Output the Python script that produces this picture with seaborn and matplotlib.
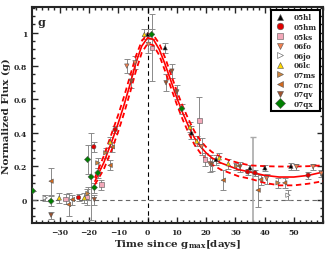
import numpy as np
import pandas as pd
import seaborn as sns
import matplotlib
matplotlib.use("Agg")
import matplotlib.pyplot as plt
from matplotlib.ticker import MultipleLocator

sns.set_theme(style="ticks")
plt.rcParams['font.family'] = ['DejaVu Serif']
plt.rcParams['font.weight'] = 'bold'
plt.rcParams['mathtext.fontset'] = 'dejavuserif'
plt.rcParams['mathtext.default'] = 'bf'

# template curve and its uncertainty band
tmpl_t = [-18, -15, -12, -10, -8, -6, -4, -2, 0, 2, 4, 6, 8, 10, 12, 14, 16, 18, 20, 22, 25, 28, 31, 35, 40, 45, 50, 55, 60]
tmpl_mid = [0.11, 0.22, 0.36, 0.46, 0.57, 0.69, 0.82, 0.92, 0.97, 0.96, 0.90, 0.81, 0.71, 0.61, 0.52, 0.44, 0.37, 0.32, 0.28, 0.25, 0.22, 0.20, 0.18, 0.165, 0.145, 0.135, 0.135, 0.145, 0.165]
tmpl_hi = [0.13, 0.26, 0.41, 0.51, 0.62, 0.74, 0.86, 0.95, 0.995, 0.985, 0.935, 0.85, 0.75, 0.65, 0.56, 0.48, 0.41, 0.355, 0.315, 0.285, 0.255, 0.235, 0.22, 0.205, 0.2, 0.198, 0.198, 0.2, 0.205]
tmpl_lo = [0.09, 0.18, 0.31, 0.41, 0.52, 0.64, 0.77, 0.88, 0.935, 0.925, 0.865, 0.77, 0.67, 0.57, 0.48, 0.40, 0.33, 0.28, 0.24, 0.21, 0.18, 0.16, 0.14, 0.125, 0.1, 0.085, 0.085, 0.095, 0.11]

# photometry per supernova: phase, flux, flux error
sn_05hl_t = [0, 6, 15, 23.4, 35, 40.1, 49]
sn_05hl_f = [0.99, 0.91, 0.40, 0.24, 0.19, 0.19, 0.20]
sn_05hl_e = [0.03, 0.03, 0.04, 0.03, 0.02, 0.02, 0.02]

sn_05hm_t = [-23.6, -18.4, -11.1, 34.2, 36.7, 54.9]
sn_05hm_f = [0.012, 0.316, 0.42, 0.166, 0.16, 0.146]
sn_05hm_e = [0.02, 0.03, 0.02, 0.02, 0.02, 0.02]

sn_05ks_t = [-28, -20.7, -15.8, 1.5, 17.7, 19.6]
sn_05ks_f = [0.005, 0.016, 0.09, 0.91, 0.475, 0.24]
sn_05ks_e = [0.03, 0.05, 0.03, 0.2, 0.14, 0.04]

sn_06fo_t = [-7.1, -4.3, 0.3, 18.5, 21.3, 40.7, 50.9, 56.6, 59.4]
sn_06fo_f = [0.80, 0.82, 0.93, 0.316, 0.215, 0.126, 0.196, 0.196, 0.156]
sn_06fo_e = [0.04, 0.04, 0.05, 0.05, 0.05, 0.03, 0.02, 0.02, 0.02]

sn_06jo_t = [-35, 48]
sn_06jo_f = [0.01, 0.026]
sn_06jo_e = [0.02, 0.03]

sn_06lc_t = [-30.2, -21.6, -12.8, -1.1, 14.5, 16.8, 24.5, 27.6]
sn_06lc_f = [0.01, 0.01, 0.345, 0.99, 0.435, 0.35, 0.25, 0.215]
sn_06lc_e = [0.03, 0.03, 0.03, 0.03, 0.03, 0.03, 0.03, 0.03]

sn_07ms_t = [-20.4, -17, -14.3, 30.4, 44.6]
sn_07ms_f = [0.036, 0.22, 0.28, 0.2, 0.1]
sn_07ms_e = [0.04, 0.03, 0.03, 0.02, 0.03]

sn_07nc_t = [-33, -27, -25.7, -12.8, -12, 25.9, 37.8, 38.7, 46.9]
sn_07nc_f = [0.11, -0.03, 0.0, 0.205, 0.316, 0.116, 0.056, 0.12, 0.1]
sn_07nc_e = [0.08, 0.07, 0.03, 0.03, 0.03, 0.06, 0.1, 0.03, 0.03]

sn_07qv_t = [-33, -18.2, -5.6, 6.3, 8.3, 10, 21.9, 31.6]
sn_07qv_f = [-0.094, 0.0, 0.71, 0.70, 0.77, 0.645, 0.21, 0.196]
sn_07qv_e = [0.02, 0.03, 0.04, 0.05, 0.04, 0.04, 0.04, 0.03]

sn_07qx_t = [-39.3, -33, -20.5, -19.3, -18.2, -17, 1.4, 11.7]
sn_07qx_f = [0.052, -0.01, 0.24, 0.136, 0.072, 0.16, 0.99, 0.545]
sn_07qx_e = [0.0, 0.03, 0.085, 0.26, 0.03, 0.03, 0.03, 0.03]

# big grey error bar near 36 d
wide_t = [35.9]
wide_f = [0.12]
wide_e = [0.255]

names = ["05hl", "05hm", "05ks", "06fo", "06jo", "06lc", "07ms", "07nc", "07qv", "07qx"]
series = {
    "05hl": (sn_05hl_t, sn_05hl_f, sn_05hl_e),
    "05hm": (sn_05hm_t, sn_05hm_f, sn_05hm_e),
    "05ks": (sn_05ks_t, sn_05ks_f, sn_05ks_e),
    "06fo": (sn_06fo_t, sn_06fo_f, sn_06fo_e),
    "06jo": (sn_06jo_t, sn_06jo_f, sn_06jo_e),
    "06lc": (sn_06lc_t, sn_06lc_f, sn_06lc_e),
    "07ms": (sn_07ms_t, sn_07ms_f, sn_07ms_e),
    "07nc": (sn_07nc_t, sn_07nc_f, sn_07nc_e),
    "07qv": (sn_07qv_t, sn_07qv_f, sn_07qv_e),
    "07qx": (sn_07qx_t, sn_07qx_f, sn_07qx_e),
}
palette = {"05hl": "black", "05hm": "#e00000", "05ks": "#f2a7b8", "06fo": "#f08050",
           "06jo": "white", "06lc": "#ffd700", "07ms": "#cd853f", "07nc": "#d2691e",
           "07qv": "#a0522d", "07qx": "#008000"}
markers = {"05hl": "^", "05hm": "o", "05ks": "s", "06fo": "v", "06jo": ">",
           "06lc": "^", "07ms": ">", "07nc": "<", "07qv": "v", "07qx": "D"}

rows = []
for n in names:
    t, f, e = series[n]
    for a, b, c in zip(t, f, e):
        rows.append({"t": a, "flux": b, "err": c, "sn": n})
df = pd.DataFrame(rows)

tmpl = pd.DataFrame({"t": tmpl_t, "mid": tmpl_mid, "hi": tmpl_hi, "lo": tmpl_lo})

fig = plt.figure(figsize=(3.27, 2.55), dpi=100)
ax = fig.add_axes([0.098, 0.122, 0.89, 0.847])

ax.axvline(0, color="black", ls=(0, (4, 3)), lw=0.8, zorder=1)
ax.axhline(0, color="#666666", ls=(0, (4, 3)), lw=0.8, zorder=1)

ax.errorbar(df["t"], df["flux"], yerr=df["err"], fmt="none", ecolor="#8a8a8a",
            elinewidth=0.7, capsize=2.5, capthick=0.7, zorder=2)
ax.errorbar(wide_t, wide_f, yerr=wide_e, fmt="none", ecolor="#aaaaaa",
            elinewidth=1.2, capsize=2.5, zorder=2)

sns.lineplot(data=tmpl, x="t", y="mid", color="red", lw=1.2, ax=ax, zorder=3)
sns.lineplot(data=tmpl, x="t", y="hi", color="red", lw=1.3, ax=ax, zorder=3)
sns.lineplot(data=tmpl, x="t", y="lo", color="red", lw=1.3, ax=ax, zorder=3)
for ln in ax.lines[-2:]:
    ln.set_linestyle((0, (3, 2)))

sns.scatterplot(data=df, x="t", y="flux", hue="sn", style="sn", hue_order=names,
                style_order=names, palette=palette, markers=markers, s=10,
                edgecolor="#555555", linewidth=0.4, ax=ax, zorder=4)

ax.set_xlim(-39.5, 60)
ax.set_ylim(-0.14, 1.155)
ax.xaxis.set_minor_locator(MultipleLocator(2))
ax.yaxis.set_minor_locator(MultipleLocator(0.05))
ax.set_yticks([0, 0.2, 0.4, 0.6, 0.8, 1.0])
ax.set_yticklabels(["0", "0.2", "0.4", "0.6", "0.8", "1"])
ax.set_xticks([-30, -20, -10, 0, 10, 20, 30, 40, 50])
ax.tick_params(which="both", direction="in", top=True, right=True, labelsize=5.5, width=1.0)
ax.tick_params(which="major", length=4)
ax.tick_params(which="minor", length=2.5)
for s in ax.spines.values():
    s.set_linewidth(1.5)

ax.set_xlabel("Time since g$_{\\mathbf{max}}$[days]", fontsize=7.5, fontweight="bold", labelpad=1)
ax.set_ylabel("Normalized Flux (g)", fontsize=7.5, fontweight="bold", labelpad=2)
ax.text(0.02, 0.96, "g", transform=ax.transAxes, fontsize=8, fontweight="bold", va="top")

leg = ax.legend(loc="upper right", fontsize=5.2, frameon=True, fancybox=False,
                borderaxespad=0.4, handletextpad=1.0, labelspacing=0.22, markerscale=1.5,
                handlelength=1.6, borderpad=0.5)
leg.get_frame().set_edgecolor("black")
leg.get_frame().set_linewidth(1.5)
leg.get_frame().set_alpha(1)

fig.savefig("out.png", dpi=100)
